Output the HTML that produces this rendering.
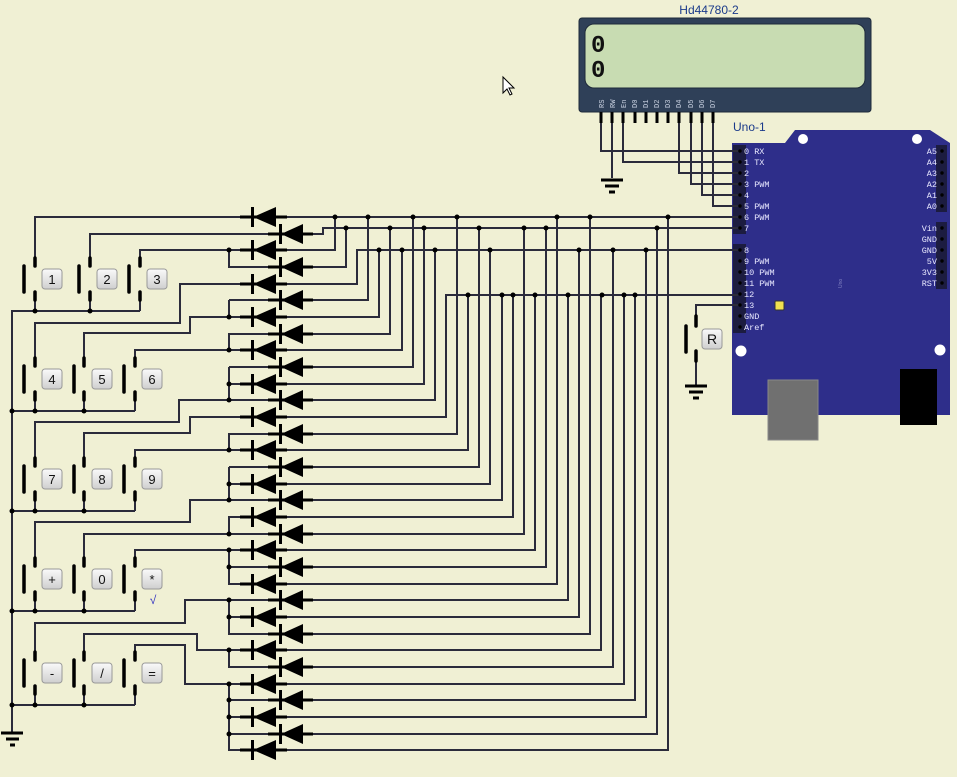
<!DOCTYPE html>
<html><head><meta charset="utf-8"><style>
html,body{margin:0;padding:0;background:#f0f0d4;}
svg{display:block;font-family:"Liberation Sans",sans-serif;}
</style></head><body>
<svg width="957" height="777" viewBox="0 0 957 777" xmlns="http://www.w3.org/2000/svg">
<defs>
<linearGradient id="bg" x1="0" y1="0" x2="0" y2="1"><stop offset="0" stop-color="#fafafa"/><stop offset="1" stop-color="#cfcfcf"/></linearGradient>
<g id="dl"><line x1="240" y1="0" x2="287" y2="0" stroke="#000" stroke-width="3"/><rect x="251" y="-10" width="3" height="20" fill="#000"/><polygon points="253,0 276,-10 276,10" fill="#000"/></g>
<g id="dr"><line x1="268" y1="0" x2="313" y2="0" stroke="#000" stroke-width="3"/><rect x="279" y="-10" width="3" height="20" fill="#000"/><polygon points="281,0 303,-10 303,10" fill="#000"/></g>
</defs>
<rect width="957" height="777" fill="#f0f0d4"/>

<!-- LCD -->
<text x="709" y="14" font-size="12" fill="#1a3a8a" text-anchor="middle">Hd44780-2</text>
<rect x="579" y="18" width="292" height="94" rx="3" fill="#2f4058" stroke="#1e2a3a"/>
<rect x="585" y="24" width="280" height="64" rx="9" fill="#c8dcb2" stroke="#1e2a3a"/>
<text x="591" y="52" font-family="Liberation Mono,monospace" font-size="24" font-weight="bold" fill="#111">0</text>
<text x="591" y="77" font-family="Liberation Mono,monospace" font-size="24" font-weight="bold" fill="#111">0</text>
<g font-size="7" fill="#c8d0e0" font-family="Liberation Mono,monospace">
<text transform="translate(604,108) rotate(-90)">RS</text>
<text transform="translate(615,108) rotate(-90)">RW</text>
<text transform="translate(626,108) rotate(-90)">En</text>
<text transform="translate(637,108) rotate(-90)">D0</text>
<text transform="translate(648,108) rotate(-90)">D1</text>
<text transform="translate(659,108) rotate(-90)">D2</text>
<text transform="translate(670,108) rotate(-90)">D3</text>
<text transform="translate(681,108) rotate(-90)">D4</text>
<text transform="translate(693,108) rotate(-90)">D5</text>
<text transform="translate(704,108) rotate(-90)">D6</text>
<text transform="translate(715,108) rotate(-90)">D7</text>
</g>
<g stroke="#000" stroke-width="3">
<line x1="601" y1="112" x2="601" y2="123"/><line x1="612" y1="112" x2="612" y2="123"/><line x1="623" y1="112" x2="623" y2="123"/><line x1="635" y1="112" x2="635" y2="123"/><line x1="646" y1="112" x2="646" y2="123"/><line x1="657" y1="112" x2="657" y2="123"/><line x1="668" y1="112" x2="668" y2="123"/><line x1="679" y1="112" x2="679" y2="123"/><line x1="691" y1="112" x2="691" y2="123"/><line x1="702" y1="112" x2="702" y2="123"/><line x1="713" y1="112" x2="713" y2="123"/>
</g>

<!-- cursor -->
<path d="M503,77 L503,93 L507,89 L510,95 L512,94 L509,88 L514,88 Z" fill="#fff" stroke="#000" stroke-width="1"/>

<!-- Arduino -->
<text x="733" y="131" font-size="12" fill="#1a3a8a">Uno-1</text>
<path d="M732,143 L785,143 L795,130 L930,130 L950,143 L950,415 L732,415 Z" fill="#2e2e8a"/>
<circle cx="803" cy="139" r="5" fill="#fff"/><circle cx="917" cy="139" r="5" fill="#fff"/>
<circle cx="741" cy="351" r="5.5" fill="#fff"/><circle cx="940" cy="350" r="5.5" fill="#fff"/>
<rect x="768" y="380" width="50" height="60" fill="#707070" stroke="#888"/>
<rect x="900" y="369" width="37" height="56" fill="#000"/>
<rect x="775" y="301" width="9" height="9" rx="1" fill="#f0e050" stroke="#333"/>
<rect x="733" y="145" width="13" height="89" fill="#1c1c40"/>
<rect x="733" y="244" width="13" height="89" fill="#1c1c40"/>
<rect x="936" y="145" width="11" height="67" fill="#1c1c40"/>
<rect x="936" y="222" width="11" height="67" fill="#1c1c40"/>
<g fill="#000">
<circle cx="740" cy="151" r="1.7"/><circle cx="740" cy="162" r="1.7"/><circle cx="740" cy="173" r="1.7"/><circle cx="740" cy="184" r="1.7"/><circle cx="740" cy="195" r="1.7"/><circle cx="740" cy="206" r="1.7"/><circle cx="740" cy="217" r="1.7"/><circle cx="740" cy="228" r="1.7"/>
<circle cx="740" cy="250" r="1.7"/><circle cx="740" cy="261" r="1.7"/><circle cx="740" cy="272" r="1.7"/><circle cx="740" cy="283" r="1.7"/><circle cx="740" cy="294" r="1.7"/><circle cx="740" cy="305" r="1.7"/><circle cx="740" cy="316" r="1.7"/><circle cx="740" cy="327" r="1.7"/>
<circle cx="942" cy="151" r="1.7"/><circle cx="942" cy="162" r="1.7"/><circle cx="942" cy="173" r="1.7"/><circle cx="942" cy="184" r="1.7"/><circle cx="942" cy="195" r="1.7"/><circle cx="942" cy="206" r="1.7"/>
<circle cx="942" cy="228" r="1.7"/><circle cx="942" cy="239" r="1.7"/><circle cx="942" cy="250" r="1.7"/><circle cx="942" cy="261" r="1.7"/><circle cx="942" cy="272" r="1.7"/><circle cx="942" cy="283" r="1.7"/>
</g>
<g font-family="Liberation Mono,monospace" font-size="8.5" fill="#e8e8ff">
<text x="744" y="154">0 RX</text><text x="744" y="165">1 TX</text><text x="744" y="176">2</text><text x="744" y="187">3 PWM</text><text x="744" y="198">4</text><text x="744" y="209">5 PWM</text><text x="744" y="220">6 PWM</text><text x="744" y="231">7</text>
<text x="744" y="253">8</text><text x="744" y="264">9 PWM</text><text x="744" y="275">10 PWM</text><text x="744" y="286">11 PWM</text><text x="744" y="297">12</text><text x="744" y="308">13</text><text x="744" y="319">GND</text><text x="744" y="330">Aref</text>
</g>
<g font-family="Liberation Mono,monospace" font-size="8.5" fill="#e8e8ff" text-anchor="end">
<text x="937" y="154">A5</text><text x="937" y="165">A4</text><text x="937" y="176">A3</text><text x="937" y="187">A2</text><text x="937" y="198">A1</text><text x="937" y="209">A0</text>
<text x="937" y="231">Vin</text><text x="937" y="242">GND</text><text x="937" y="253">GND</text><text x="937" y="264">5V</text><text x="937" y="275">3V3</text><text x="937" y="286">RST</text>
</g>
<text transform="translate(842,288) rotate(-90)" font-size="5" fill="#8080c0">Uno</text>

<!-- wires -->
<g fill="none" stroke="#2b2b3b" stroke-width="2">
<!-- LCD wires -->
<path d="M601,123 V151 H738"/><path d="M612,123 V178"/><path d="M623,123 V162 H738"/>
<path d="M679,123 V173 H738"/><path d="M691,123 V184 H738"/><path d="M702,123 V195 H738"/><path d="M713,123 V206 H738"/>
<!-- reset button -->
<path d="M738,305 H696 V315"/><path d="M696,362 V385"/>
<!-- buses -->
<path d="M287,217 H738"/><path d="M313,234 H323 V228 H738"/>
<path d="M287,250 H335 V217"/><path d="M313,267 H346 V228"/><path d="M287,284 H357 V250 H738"/>
<path d="M313,300 H368 V217"/><path d="M287,317 H379 V250"/><path d="M313,334 H390 V228"/><path d="M287,350 H402 V250"/>
<path d="M313,367 H413 V217"/><path d="M287,384 H424 V228"/><path d="M313,400 H435 V250"/><path d="M287,417 H446 V295 H738"/>
<path d="M313,434 H457 V217"/><path d="M287,450 H468 V295"/><path d="M313,467 H479 V228"/><path d="M287,484 H490 V250"/>
<path d="M313,500 H502 V295"/><path d="M287,517 H513 V295"/><path d="M313,534 H524 V228"/><path d="M287,550 H535 V295"/>
<path d="M313,567 H546 V228"/><path d="M287,584 H557 V217"/><path d="M313,600 H568 V295"/><path d="M287,617 H579 V250"/>
<path d="M313,634 H590 V217"/><path d="M287,650 H601 V295"/><path d="M313,667 H613 V250"/><path d="M287,684 H624 V295"/>
<path d="M313,700 H635 V295"/><path d="M287,717 H646 V250"/><path d="M313,734 H657 V228"/><path d="M287,750 H668 V217"/>
<!-- left feeders -->
<path d="M35,257 V217 H240"/><path d="M90,257 V234 H268"/>
<path d="M140,257 V250 H240"/><path d="M229,250 V267 H268"/>
<path d="M35,357 V323 H180 V284 H240"/>
<path d="M84,357 V333 H190 V317 H240"/><path d="M229,300 V317"/><path d="M229,300 H268"/>
<path d="M135,357 V350 H240"/><path d="M229,350 V334 H268"/>
<path d="M35,457 V422 H179 V400 H268"/><path d="M229,367 V400"/><path d="M229,367 H268"/><path d="M229,384 H240"/>
<path d="M84,457 V433 H190 V417 H240"/>
<path d="M135,457 V450 H240"/><path d="M229,450 V434 H268"/>
<path d="M35,557 V522 H190 V500 H268"/><path d="M229,467 V500"/><path d="M229,467 H268"/><path d="M229,484 H240"/>
<path d="M84,557 V534 H268"/><path d="M229,534 V517 H240"/>
<path d="M135,557 V550 H240"/><path d="M229,550 V584 H240"/><path d="M229,567 H268"/>
<path d="M35,651 V623 H185 V600 H268"/><path d="M229,600 V634 H268"/><path d="M229,617 H240"/>
<path d="M84,651 V634 H197 V650 H240"/><path d="M229,650 V667 H268"/>
<path d="M135,651 V645 H185 V684 H240"/><path d="M229,684 V750 H240"/><path d="M229,700 H268"/><path d="M229,717 H240"/><path d="M229,734 H268"/>
<!-- keypad bottoms -->
<path d="M35,301 V311 M90,301 V311 M140,301 V311 M12,733 V311 H140"/>
<path d="M35,401 V411 M84,401 V411 M135,401 V411 M12,411 H135"/>
<path d="M35,501 V511 M84,501 V511 M135,501 V511 M12,511 H135"/>
<path d="M35,601 V611 M84,601 V611 M135,601 V611 M12,611 H135"/>
<path d="M35,695 V705 M84,695 V705 M135,695 V705 M12,705 H135"/>
</g>

<!-- diodes -->
<use href="#dl" transform="translate(0,217)"/><use href="#dr" transform="translate(0,234)"/>
<use href="#dl" transform="translate(0,250)"/><use href="#dr" transform="translate(0,267)"/>
<use href="#dl" transform="translate(0,284)"/><use href="#dr" transform="translate(0,300)"/>
<use href="#dl" transform="translate(0,317)"/><use href="#dr" transform="translate(0,334)"/>
<use href="#dl" transform="translate(0,350)"/><use href="#dr" transform="translate(0,367)"/>
<use href="#dl" transform="translate(0,384)"/><use href="#dr" transform="translate(0,400)"/>
<use href="#dl" transform="translate(0,417)"/><use href="#dr" transform="translate(0,434)"/>
<use href="#dl" transform="translate(0,450)"/><use href="#dr" transform="translate(0,467)"/>
<use href="#dl" transform="translate(0,484)"/><use href="#dr" transform="translate(0,500)"/>
<use href="#dl" transform="translate(0,517)"/><use href="#dr" transform="translate(0,534)"/>
<use href="#dl" transform="translate(0,550)"/><use href="#dr" transform="translate(0,567)"/>
<use href="#dl" transform="translate(0,584)"/><use href="#dr" transform="translate(0,600)"/>
<use href="#dl" transform="translate(0,617)"/><use href="#dr" transform="translate(0,634)"/>
<use href="#dl" transform="translate(0,650)"/><use href="#dr" transform="translate(0,667)"/>
<use href="#dl" transform="translate(0,684)"/><use href="#dr" transform="translate(0,700)"/>
<use href="#dl" transform="translate(0,717)"/><use href="#dr" transform="translate(0,734)"/>
<use href="#dl" transform="translate(0,750)"/>

<!-- junction dots -->
<g fill="#000">
<circle cx="335" cy="217" r="2.5"/><circle cx="368" cy="217" r="2.5"/><circle cx="413" cy="217" r="2.5"/><circle cx="457" cy="217" r="2.5"/><circle cx="557" cy="217" r="2.5"/><circle cx="590" cy="217" r="2.5"/><circle cx="668" cy="217" r="2.5"/>
<circle cx="346" cy="228" r="2.5"/><circle cx="390" cy="228" r="2.5"/><circle cx="424" cy="228" r="2.5"/><circle cx="479" cy="228" r="2.5"/><circle cx="524" cy="228" r="2.5"/><circle cx="546" cy="228" r="2.5"/><circle cx="657" cy="228" r="2.5"/>
<circle cx="379" cy="250" r="2.5"/><circle cx="402" cy="250" r="2.5"/><circle cx="435" cy="250" r="2.5"/><circle cx="490" cy="250" r="2.5"/><circle cx="579" cy="250" r="2.5"/><circle cx="613" cy="250" r="2.5"/><circle cx="646" cy="250" r="2.5"/>
<circle cx="468" cy="295" r="2.5"/><circle cx="502" cy="295" r="2.5"/><circle cx="513" cy="295" r="2.5"/><circle cx="535" cy="295" r="2.5"/><circle cx="568" cy="295" r="2.5"/><circle cx="602" cy="295" r="2.5"/><circle cx="624" cy="295" r="2.5"/><circle cx="635" cy="295" r="2.5"/>
<circle cx="229" cy="250" r="2.5"/><circle cx="229" cy="317" r="2.5"/><circle cx="229" cy="350" r="2.5"/><circle cx="229" cy="384" r="2.5"/><circle cx="229" cy="400" r="2.5"/><circle cx="229" cy="450" r="2.5"/><circle cx="229" cy="484" r="2.5"/><circle cx="229" cy="500" r="2.5"/><circle cx="229" cy="534" r="2.5"/><circle cx="229" cy="550" r="2.5"/><circle cx="229" cy="567" r="2.5"/><circle cx="229" cy="600" r="2.5"/><circle cx="229" cy="617" r="2.5"/><circle cx="229" cy="650" r="2.5"/><circle cx="229" cy="684" r="2.5"/><circle cx="229" cy="700" r="2.5"/><circle cx="229" cy="717" r="2.5"/><circle cx="229" cy="734" r="2.5"/>
<circle cx="35" cy="311" r="2.5"/><circle cx="90" cy="311" r="2.5"/>
<circle cx="12" cy="411" r="2.5"/><circle cx="35" cy="411" r="2.5"/><circle cx="84" cy="411" r="2.5"/>
<circle cx="12" cy="511" r="2.5"/><circle cx="35" cy="511" r="2.5"/><circle cx="84" cy="511" r="2.5"/>
<circle cx="12" cy="611" r="2.5"/><circle cx="35" cy="611" r="2.5"/><circle cx="84" cy="611" r="2.5"/>
<circle cx="12" cy="705" r="2.5"/><circle cx="35" cy="705" r="2.5"/><circle cx="84" cy="705" r="2.5"/>
</g>

<!-- key switches: contacts and bars -->
<g stroke="#000" stroke-width="3.5" stroke-linecap="round">
<!-- row1 cy279 -->
<path d="M35,258 V266 M35,292 V300 M24,266 V292 M90,258 V266 M90,292 V300 M79,266 V292 M140,258 V266 M140,292 V300 M129,266 V292"/>
<path d="M35,358 V366 M35,392 V400 M24,366 V392 M84,358 V366 M84,392 V400 M74,366 V392 M135,358 V366 M135,392 V400 M124,366 V392"/>
<path d="M35,458 V466 M35,492 V500 M24,466 V492 M84,458 V466 M84,492 V500 M74,466 V492 M135,458 V466 M135,492 V500 M124,466 V492"/>
<path d="M35,558 V566 M35,592 V600 M24,566 V592 M84,558 V566 M84,592 V600 M74,566 V592 M135,558 V566 M135,592 V600 M124,566 V592"/>
<path d="M35,652 V660 M35,686 V694 M24,660 V686 M84,652 V660 M84,686 V694 M74,660 V686 M135,652 V660 M135,686 V694 M124,660 V686"/>
<!-- reset -->
<path d="M696,316 V326 M696,351 V361 M686,326 V352"/>
</g>

<!-- buttons -->
<g fill="url(#bg)" stroke="#999" stroke-width="1">
<rect x="42" y="269" width="20" height="20" rx="3"/><rect x="97" y="269" width="20" height="20" rx="3"/><rect x="147" y="269" width="20" height="20" rx="3"/>
<rect x="42" y="369" width="20" height="20" rx="3"/><rect x="92" y="369" width="20" height="20" rx="3"/><rect x="142" y="369" width="20" height="20" rx="3"/>
<rect x="42" y="469" width="20" height="20" rx="3"/><rect x="92" y="469" width="20" height="20" rx="3"/><rect x="142" y="469" width="20" height="20" rx="3"/>
<rect x="42" y="569" width="20" height="20" rx="3"/><rect x="92" y="569" width="20" height="20" rx="3"/><rect x="142" y="569" width="20" height="20" rx="3"/>
<rect x="42" y="663" width="20" height="20" rx="3"/><rect x="92" y="663" width="20" height="20" rx="3"/><rect x="142" y="663" width="20" height="20" rx="3"/>
<rect x="702" y="329" width="20" height="20" rx="3"/>
</g>
<g font-size="13" fill="#111" text-anchor="middle">
<text x="52" y="284">1</text><text x="107" y="284">2</text><text x="157" y="284">3</text>
<text x="52" y="384">4</text><text x="102" y="384">5</text><text x="152" y="384">6</text>
<text x="52" y="484">7</text><text x="102" y="484">8</text><text x="152" y="484">9</text>
<text x="52" y="584">+</text><text x="102" y="584">0</text><text x="152" y="584">*</text>
<text x="52" y="678">-</text><text x="102" y="678">/</text><text x="152" y="678">=</text>
<text x="712" y="344" font-size="14">R</text>
</g>
<text x="153" y="604" font-size="12" fill="#3030c0" text-anchor="middle">√</text>

<!-- grounds -->
<g stroke="#000" stroke-width="3">
<path d="M1,733 H23 M6,739 H19 M10,745 H15"/>
<path d="M601,180 H623 M605,186 H619 M609,192 H615"/>
<path d="M685,386 H707 M689,392 H703 M693,398 H699"/>
</g>
</svg>
</body></html>
